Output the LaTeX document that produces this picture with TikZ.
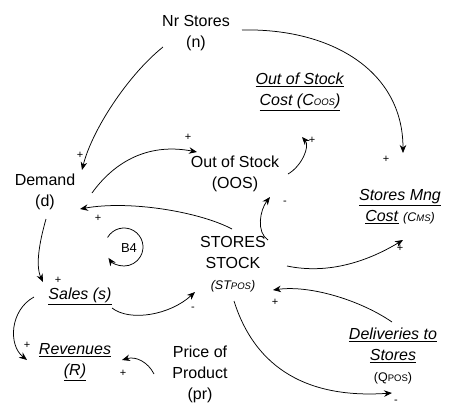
\documentclass[tikz,border=0pt]{standalone}
\usepackage{fontspec}
\setmainfont{Liberation Sans}
\usetikzlibrary{calc,arrows.meta}
\newcommand\midsz{\fontsize{12.5}{15}\selectfont}
\newcommand\subsz{\fontsize{9.5}{11}\selectfont}
\newcommand\ul[1]{\underline{\textit{#1}}}
\begin{document}
\begin{tikzpicture}[x=1pt,y=-1pt,
  var/.style={align=center,inner sep=1pt,font=\fontsize{16}{21}\selectfont},
  link/.style={line width=0.75pt,-{Stealth[length=8pt,width=6.5pt]}},
  pol/.style={font=\fontsize{11}{11}\selectfont,inner sep=0pt}]
\fill[white] (0,0) rectangle (451,408);
\useasboundingbox (0,0) rectangle (451,408);

% variables
\node[var] (n)   at (196,33)  {Nr Stores\\(n)};
\node[var] (cc)  at (300,92)  {\ul{Out of Stock}\\\ul{Cost (C{\subsz OOS})}};
\node[var] (oos) at (235,174) {Out of Stock\\(OOS)};
\node[var] (d)   at (45,192)  {Demand\\(d)};
\node[var] (cms) at (400,207) {\ul{Stores Mng}\\\ul{Cost} {\midsz\itshape(C{\subsz MS})}};
\node[var] (st)  at (233,264) {STORES\\STOCK\\{\midsz\itshape (ST{\subsz POS})}};
\node[var] (s)   at (80,296)  {\ul{Sales (s)}};
\node[var] (r)   at (75,362)  {\ul{Revenues}\\\ul{(R)}};
\node[var] (pr)  at (200,374) {Price of\\Product\\(pr)};
\node[var] (del) at (393,356) {\ul{Deliveries to}\\\ul{Stores}\\{\midsz (Q{\subsz POS})}};

% balancing loop marker
\coordinate (lc) at (124,247);
\node[font=\fontsize{13}{15}\selectfont,inner sep=0pt] (b4) at (129,248) {B4};
\draw[link] (lc) ++(210:19) arc[start angle=210,end angle=505,radius=19];

% causal links
\draw[link] ($(n)+(-33,14)$) .. controls (128,75) and (92,130) .. ($(d)+(37,-22)$);
\draw[link] ($(n)+(46,-3)$) .. controls (330,28) and (403,70) .. ($(cms)+(3,-54)$);
\draw[link] ($(d)+(47,1)$) .. controls (112,165) and (145,142) .. ($(oos)+(-38,-22)$);
\draw[link] ($(oos)+(53,0)$) .. controls (302,166) and (310,146) .. ($(cc)+(2,45)$);
\draw[link] ($(st)+(-1,-35)$) .. controls (200,212) and (130,200) .. ($(d)+(35,17)$);
\draw[link] ($(st)+(35,-24)$) .. controls (256,232) and (260,210) .. ($(oos)+(35,23)$);
\draw[link] ($(st)+(54,2)$) .. controls (330,275) and (370,260) .. ($(cms)+(3,33)$);
\draw[link] ($(d)+(1,27)$) .. controls (40,240) and (35,265) .. ($(s)+(-37,-14)$);
\draw[link] ($(s)+(32,12)$) .. controls (130,322) and (170,315) .. ($(st)+(-38,28)$);
\draw[link] ($(s)+(-46,1)$) .. controls (10,310) and (8,345) .. ($(r)+(-48,-2)$);
\draw[link] ($(pr)+(-46,0)$) .. controls (148,362) and (136,356) .. ($(r)+(47,-2)$);
\draw[link] ($(del)+(-1,-34)$) .. controls (360,300) and (310,285) .. ($(st)+(40,26)$);
\draw[link] ($(st)+(1,37)$) .. controls (250,352) and (290,400) .. ($(del)+(-1,37)$);

% link polarities
\node[pol] at (80,155)  {+};
\node[pol] at (386,159) {+};
\node[pol] at (188,137) {+};
\node[pol] at (312,140) {+};
\node[pol] at (98,218)  {+};
\node[pol] at (285,203) {-};
\node[pol] at (400,248) {+};
\node[pol] at (58,280)  {+};
\node[pol] at (193,309) {-};
\node[pol] at (27,345)  {+};
\node[pol] at (123,373) {+};
\node[pol] at (275,302) {+};
\node[pol] at (396,402) {-};
\end{tikzpicture}
\end{document}
